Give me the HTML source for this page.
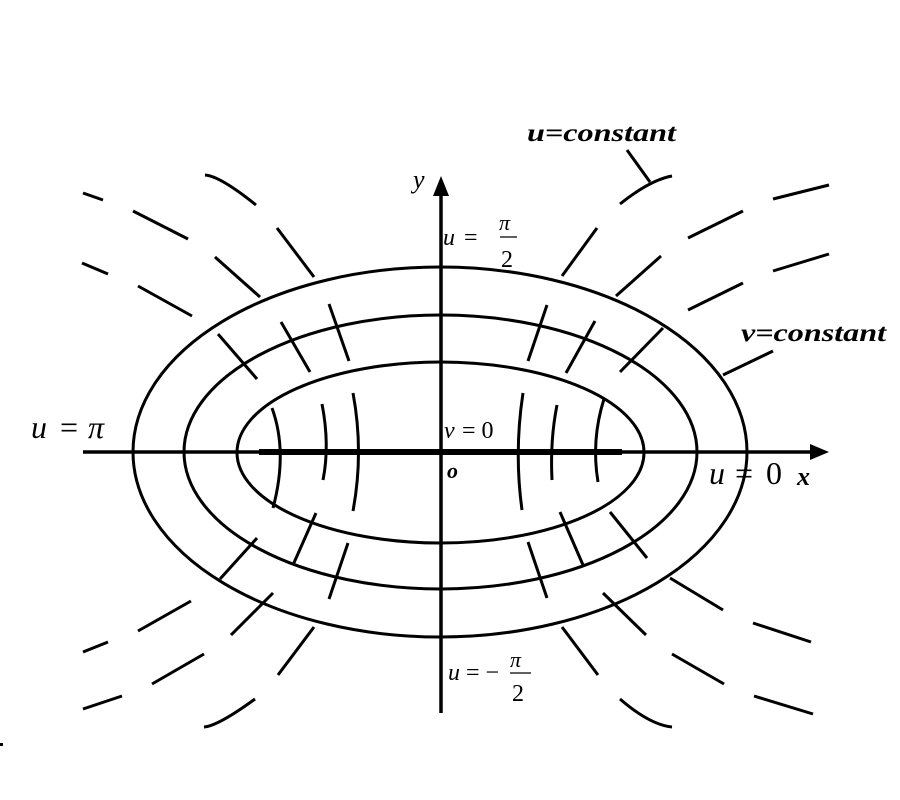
<!DOCTYPE html>
<html><head><meta charset="utf-8"><style>
html,body{margin:0;padding:0;background:#fff;}
svg{display:block;}
text{font-family:"Liberation Serif",serif;fill:#000;}
</style></head><body>
<svg width="900" height="800" viewBox="0 0 900 800" xmlns="http://www.w3.org/2000/svg">
<g fill="none" stroke="#000" stroke-width="3" stroke-linecap="butt">
<ellipse cx="440" cy="452" rx="307" ry="185"/>
<ellipse cx="440.5" cy="452" rx="256.5" ry="137"/>
<ellipse cx="440.5" cy="452.5" rx="203.5" ry="90.5"/>
<line x1="83" y1="452" x2="816" y2="452" stroke-width="3.5"/>
<line x1="259" y1="452" x2="622" y2="452" stroke-width="6"/>
<line x1="441" y1="190" x2="441" y2="713" stroke-width="3.5"/>
<path d="M83,193 L103,200"/>
<path d="M133,211 L188,239"/>
<path d="M205,175 Q220,176 256,205"/>
<path d="M82,263 L108,274"/>
<path d="M138,286 L192,316"/>
<path d="M215,257 L260,297"/>
<path d="M277,228 L314,277"/>
<path d="M218,334 L257,379"/>
<path d="M281,322 L310,372"/>
<path d="M329,304 L349,361"/>
<path d="M272,408 Q288,452 273,508"/>
<path d="M322,404 Q330,445 323,480"/>
<path d="M353,393 Q364,452 353,511"/>
<path d="M257,538 L220,579"/>
<path d="M316,513 L293,565"/>
<path d="M348,543 L329,599"/>
<path d="M273,593 L231,635"/>
<path d="M314,627 L278,675"/>
<path d="M191,601 L138,631"/>
<path d="M108,642 L83,652"/>
<path d="M204,654 L152,684"/>
<path d="M122,696 L83,709"/>
<path d="M204,727 Q218,726 255,699"/>
<path d="M627,150 L650,182"/>
<path d="M620,204 Q650,180 672,176"/>
<path d="M773,199 L829,185"/>
<path d="M688,238 L743,211"/>
<path d="M773,271 L829,254"/>
<path d="M688,310 L743,283"/>
<path d="M562,276 L597,228"/>
<path d="M616,296 L661,256"/>
<path d="M528,361 L547,305"/>
<path d="M566,373 L595,321"/>
<path d="M620,372 L663,328"/>
<path d="M723,375 L773,351"/>
<path d="M523,393 Q514,452 522,510"/>
<path d="M557,405 Q550,440 552,480"/>
<path d="M604,399 Q591,440 598,482"/>
<path d="M560,512 L583,565"/>
<path d="M610,512 L647,558"/>
<path d="M528,542 L547,598"/>
<path d="M603,593 L646,635"/>
<path d="M562,627 L598,675"/>
<path d="M670,578 L723,610"/>
<path d="M753,623 L811,642"/>
<path d="M672,654 L724,684"/>
<path d="M754,696 L813,714"/>
<path d="M620,699 Q650,725 672,727"/>
<line x1="500" y1="237" x2="517" y2="237" stroke-width="1.3"/>
<line x1="510" y1="673" x2="531" y2="673" stroke-width="1.3"/>
</g>
<polygon points="829,452 810,444 810,460" fill="#000"/>
<polygon points="441,176 433,196 449,196" fill="#000"/>
<text x="527" y="141" font-size="25" font-weight="bold" font-style="italic" textLength="149" lengthAdjust="spacingAndGlyphs">u=constant</text>
<text x="741" y="341" font-size="25" font-weight="bold" font-style="italic" textLength="145" lengthAdjust="spacingAndGlyphs">v=constant</text>
<text x="413" y="188" font-size="26" font-style="italic">y</text>
<text x="31" y="438" font-size="32" font-style="italic">u</text>
<text x="60" y="438" font-size="32">=</text>
<text x="88" y="438" font-size="32" font-style="italic">π</text>
<text x="443" y="245" font-size="24" font-style="italic">u</text>
<text x="464" y="245" font-size="24">=</text>
<text x="499" y="230" font-size="22" font-style="italic">π</text>
<text x="501" y="267" font-size="24">2</text>
<text x="444" y="438" font-size="24" font-style="italic">v</text>
<text x="462" y="438" font-size="24">= 0</text>
<text x="447" y="478" font-size="22" font-weight="bold" font-style="italic">o</text>
<text x="709" y="484" font-size="32" font-style="italic">u</text>
<text x="735" y="484" font-size="32">=</text>
<text x="766" y="484" font-size="32">0</text>
<text x="797" y="485" font-size="26" font-weight="bold" font-style="italic">x</text>
<text x="448" y="680" font-size="24" font-style="italic">u</text>
<text x="466" y="680" font-size="24">= −</text>
<text x="510" y="667" font-size="22" font-style="italic">π</text>
<text x="512" y="701" font-size="24">2</text>
<rect x="0" y="743" width="3" height="3" fill="#000"/>
</svg>
</body></html>
